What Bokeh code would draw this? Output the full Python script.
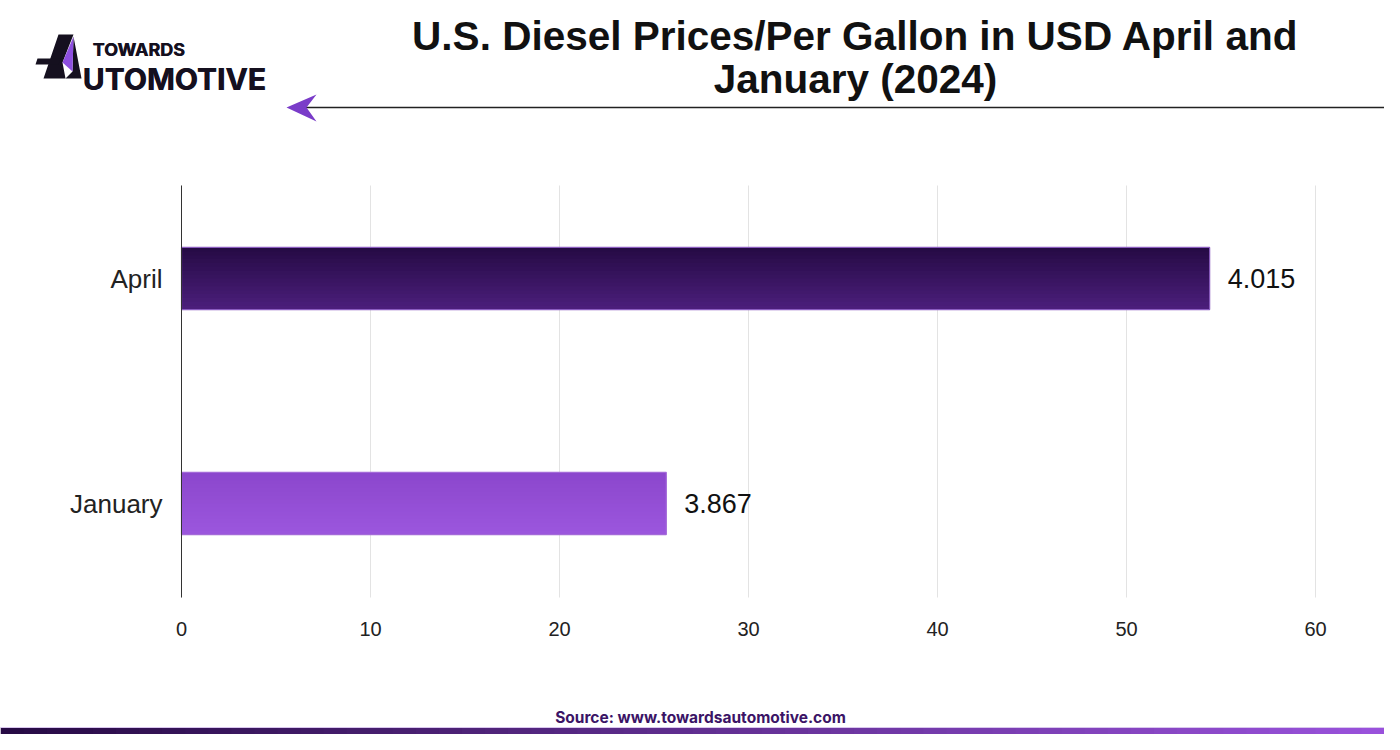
import numpy as np
from bokeh.plotting import figure
from bokeh.models import Range1d, ColumnDataSource, FixedTicker
from bokeh.embed import file_html
from bokeh.resources import INLINE
from bokeh.core.properties import value

# ---------------- data ----------------
categories = ["April", "January"]
bar_values = [54.4, 25.65]
value_labels = ["4.015", "3.867"]
x_ticks = [0, 10, 20, 30, 40, 50, 60]
title_lines = ["U.S. Diesel Prices/Per Gallon in USD April and", "January (2024)"]
source_text = "Source: www.towardsautomotive.com"

# gradient colours (top -> bottom) for each bar
bar_top_colors = ["#250a44", "#8c47cc"]
bar_bottom_colors = ["#4c1f7c", "#9b56de"]
bar_edge_colors = ["#8a5cbf", "#a36ad8"]

W, H = 1384, 734
# chart placement on the canvas (px): value 0 -> x=181, 60 -> x=1315; row 1 -> y=278, row 0 -> y=503
X0, XPX = 181, 18.9
Y1, YPX = 278, 225
PLOT_TOP, PLOT_BOT = 185, 597

x_lo, x_hi = -X0 / XPX, (W - X0) / XPX
y_hi, y_lo = 1 + Y1 / YPX, 1 - (H - Y1) / YPX
y_top_val = 1 + (Y1 - PLOT_TOP) / YPX
y_bot_val = 1 - (PLOT_BOT - Y1) / YPX


def mix(c1, c2, t):
    a = [int(c1[i:i + 2], 16) for i in (1, 3, 5)]
    b = [int(c2[i:i + 2], 16) for i in (1, 3, 5)]
    return "#%02x%02x%02x" % tuple(int(round(a[k] + (b[k] - a[k]) * t)) for k in range(3))


p = figure(width=W, height=H, x_range=Range1d(x_lo, x_hi), y_range=Range1d(y_lo, y_hi),
           output_backend="svg", toolbar_location=None, min_border=0,
           outline_line_color=None)
p.extra_x_ranges = {"px": Range1d(0, W)}
p.extra_y_ranges = {"px": Range1d(H, 0)}
PX = dict(x_range_name="px", y_range_name="px")

# ---------------- grid lines (at the ticks) ----------------
p.segment(x0=x_ticks, x1=x_ticks, y0=y_bot_val, y1=y_top_val, line_color="#e3e3e3", line_width=1)
p.grid.visible = False

# ---------------- bars ----------------
n_cat = len(categories)
y_pos = [n_cat - 1 - i for i in range(n_cat)]  # April on top
bar_h = 0.276

n_str = 16
st, sb, sr, sc = [], [], [], []
for i in range(n_cat):
    top = y_pos[i] + bar_h / 2
    bot = y_pos[i] - bar_h / 2
    for k in range(n_str):
        t = (k + 0.5) / n_str
        st.append(top - k * bar_h / n_str)
        sb.append(max(bot, top - (k + 2) * bar_h / n_str))
        sr.append(bar_values[i])
        sc.append(mix(bar_top_colors[i], bar_bottom_colors[i], t))
stripes = ColumnDataSource(dict(top=st, bottom=sb, right=sr, color=sc))
p.quad(left=0, right="right", top="top", bottom="bottom", source=stripes,
       fill_color="color", line_color=None)

bars = ColumnDataSource(dict(y=y_pos, right=bar_values, label=value_labels, edge=bar_edge_colors))
p.hbar(y="y", right="right", left=0, height=bar_h, source=bars,
       fill_color=None, line_color="edge", line_width=1.2)
p.text(x="right", y="y", text="label", source=bars, x_offset=18, text_baseline="middle",
       text_font=value("Liberation Sans"), text_font_size="27px", text_color="#111111")

# ---------------- axes (fixed inside the canvas) ----------------
xa = p.xaxis[0]
xa.fixed_location = y_bot_val
xa.bounds = (x_ticks[0], x_ticks[-1])
xa.ticker = FixedTicker(ticks=x_ticks)
xa.axis_line_color = None
xa.major_tick_line_color = None
xa.minor_tick_line_color = None
xa.major_tick_out = 0
xa.major_tick_in = 0
xa.major_label_standoff = 24
xa.major_label_text_font = "Liberation Sans"
xa.major_label_text_font_size = "20px"
xa.major_label_text_color = "#222222"

ya = p.yaxis[0]
ya.fixed_location = 0
ya.bounds = (y_bot_val, y_top_val)
ya.ticker = FixedTicker(ticks=y_pos)
ya.major_label_overrides = {y_pos[i]: categories[i] for i in range(n_cat)}
ya.axis_line_color = "#333333"
ya.axis_line_width = 1
ya.major_tick_line_color = None
ya.minor_tick_line_color = None
ya.major_tick_out = 0
ya.major_tick_in = 0
ya.major_label_standoff = 19
ya.major_label_text_font = "Liberation Sans"
ya.major_label_text_font_size = "26px"
ya.major_label_text_color = "#222222"

# ---------------- header ----------------
# logo "A" glyph
p.patches(xs=[[58, 73, 62, 65, 43], [37, 60, 58, 35], [73, 81, 65, 72]],
          ys=[[34, 34, 62, 78, 78], [58, 58, 64, 64], [36, 78, 78, 71]],
          fill_color="#15101f", line_color=None, **PX)
p.patch([73, 62, 72], [36, 62, 71], fill_color="#8e4fe0", line_color=None, **PX)
for dx in (0, 0.6):
    p.text(x=[92 + dx], y=[48.5], text=["TOWARDS"], text_font=value("Inter"), text_font_style="bold",
           text_font_size="18px", text_color="#15101f", text_baseline="alphabetic", **PX)
    p.text(x=[82 + dx], y=[78], text=["UTOMOTIVE"], text_font=value("Inter"), text_font_style="bold",
           text_font_size="30px", text_color="#15101f", text_baseline="alphabetic", **PX)

# title
p.text(x=[855, 855], y=[35, 78], text=title_lines, text_font=value("Liberation Sans"),
       text_font_style="bold", text_font_size="40.5px", text_color="#111111",
       text_align="center", text_baseline="middle", **PX)

# arrow rule
p.line([305, W], [107, 107], line_color="#222222", line_width=1.5, **PX)
p.patch([286, 316, 306, 316], [107, 94, 107, 121], fill_color="#7a3cc9", line_color=None, **PX)

# ---------------- footer ----------------
p.text(x=[700], y=[717], text=[source_text], text_font=value("Inter"), text_font_style="bold",
       text_font_size="15.5px", text_color="#3b1466", text_align="center", text_baseline="middle", **PX)
n_seg = 60
edges = np.linspace(0, W, n_seg + 1)
seg_cols = [mix("#260a44", "#9a52dc", (k + 0.5) / n_seg) for k in range(n_seg)]
p.quad(left=edges[:-1], right=edges[1:] + 1, top=727, bottom=H, fill_color=seg_cols,
       line_color=None, **PX)
p.line([0, W], [727, 727], line_color="#d9c6ee", line_width=1, **PX)

open("out.html", "w").write(file_html(p, INLINE))
